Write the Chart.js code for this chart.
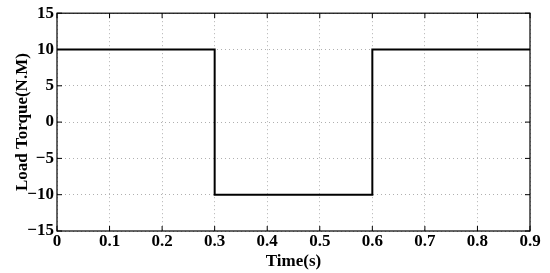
<!DOCTYPE html>
<html>
<head>
<meta charset="utf-8">
<script src="https://cdn.jsdelivr.net/npm/chart.js@4"></script>
<style>
html,body{margin:0;padding:0;background:#fff;}
#wrap{width:550px;height:273px;position:relative;}
</style>
</head>
<body>
<div id="wrap"><canvas id="c" width="550" height="273"></canvas></div>
<script>
const timeValues = [0, 0.3, 0.3, 0.6, 0.6, 0.9];
const torqueValues = [10, 10, -10, -10, 10, 10];
const xTicks = [0, 0.1, 0.2, 0.3, 0.4, 0.5, 0.6, 0.7, 0.8, 0.9];
const yTicks = [-15, -10, -5, 0, 5, 10, 15];
const xTitle = 'Time(s)';
const yTitle = 'Load Torque(N.M)';

const points = timeValues.map((t, i) => ({x: t, y: torqueValues[i]}));
const fam = '"Liberation Serif", "Times New Roman", serif';
const font = {family: fam, weight: 'bold', size: 17};

const boxPlugin = {
  id: 'box',
  afterDraw(chart) {
    const {ctx, chartArea: a, scales: {x, y}} = chart;
    ctx.save();
    ctx.strokeStyle = '#000';
    ctx.lineWidth = 1.2;
    ctx.strokeRect(a.left, a.top, a.right - a.left, a.bottom - a.top);
    ctx.lineWidth = 1;
    const len = 5;
    ctx.beginPath();
    x.ticks.forEach(t => {
      const px = x.getPixelForValue(t.value);
      ctx.moveTo(px, a.bottom); ctx.lineTo(px, a.bottom - len);
      ctx.moveTo(px, a.top); ctx.lineTo(px, a.top + len);
    });
    y.ticks.forEach(t => {
      const py = y.getPixelForValue(t.value);
      ctx.moveTo(a.left, py); ctx.lineTo(a.left + len, py);
      ctx.moveTo(a.right, py); ctx.lineTo(a.right - len, py);
    });
    ctx.stroke();
    ctx.restore();
  }
};

new Chart(document.getElementById('c'), {
  type: 'line',
  data: {
    datasets: [{
      data: points,
      borderColor: '#000',
      borderWidth: 2,
      pointRadius: 0,
      fill: false,
      tension: 0
    }]
  },
  options: {
    responsive: false,
    animation: false,
    layout: {padding: {top: 8, right: 20, left: 12, bottom: 0}},
    plugins: {legend: {display: false}, tooltip: {enabled: false}},
    scales: {
      x: {
        type: 'linear',
        min: 0, max: 0.9,
        afterBuildTicks(s) { s.ticks = xTicks.map(v => ({value: v})); },
        afterFit(s) { s.height = 42; },
        ticks: {
          font: font, color: '#000', padding: 0,
          callback: v => String(v)
        },
        grid: {color: '#b0b0b0', lineWidth: 1, drawTicks: false},
        border: {display: false, dash: [1, 3]},
        title: {display: true, text: xTitle, font: font, color: '#000', padding: {top: 0, bottom: 1}}
      },
      y: {
        type: 'linear',
        min: -15, max: 15,
        afterBuildTicks(s) { s.ticks = yTicks.map(v => ({value: v})); },
        afterFit(s) { s.width = 45; },
        ticks: {
          font: font, color: '#000', padding: 3,
          callback: v => (v < 0 ? '\u2212' + Math.abs(v) : String(v))
        },
        grid: {color: '#b0b0b0', lineWidth: 1, drawTicks: false},
        border: {display: false, dash: [1, 3]},
        title: {display: true, text: yTitle, font: {family: fam, weight: 'bold', size: 17}, color: '#000', padding: {top: 0, bottom: 0}}
      }
    }
  },
  plugins: [boxPlugin]
});
</script>
</body>
</html>
